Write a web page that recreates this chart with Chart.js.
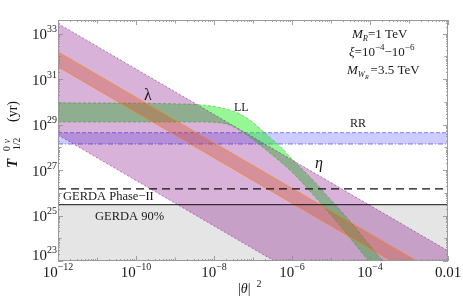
<!DOCTYPE html>
<html>
<head>
<meta charset="utf-8">
<script src="https://cdn.jsdelivr.net/npm/chart.js@4.4.0/dist/chart.umd.min.js"></script>
<style>
  body { margin: 0; background: #fff; }
  #wrap { width: 463px; height: 305px; }
</style>
</head>
<body>
<div id="wrap"><canvas id="chart"></canvas></div>
<script>
// axis ranges
const thetaRange = [1e-12, 1e-2];
const halfLifeRange = [1e23, 4e33];

// straight power-law bands (end points only, T ~ 1/|theta|^2)
const bandEnds = [1e-12, 1e-2];
const lambdaEtaUpper = [2.8e33, 2.8e23];
const lambdaEtaLower = [3.5e28, 3.5e18];
const lambdaUpper = [1.6e32, 1.6e22];
const lambdaLower = [3.5e31, 3.5e21];

// LL band
const llUpperTheta = [1e-12, 7.6e-10, 4.5e-9, 1.5e-8, 4e-8, 8.7e-8, 1.55e-7, 2.8e-7, 5.1e-7, 1.05e-6, 3.4e-6, 7.2e-6, 3.2e-5, 2.1e-4, 1e-3];
const llUpperT = [9.1e29, 8.3e29, 7.4e29, 5.5e29, 3.3e29, 1.5e29, 6.5e28, 2.6e28, 1.05e28, 2.8e27, 3.7e26, 8.9e25, 5.2e24, 1e23, 4.6e21];
const llLowerTheta = [1e-12, 4.5e-9, 1.95e-8, 4.8e-8, 1.4e-7, 3.8e-7, 1.05e-6, 4.1e-6, 1.8e-5, 9.3e-5, 1e-3];
const llLowerT = [1.3e29, 1.3e29, 1.1e29, 5.4e28, 1.4e28, 3.5e27, 7.6e26, 6e25, 3.2e24, 1e23, 8.7e20];

// RR band and GERDA limits (flat)
const rrUpper = 4.4e28;
const rrLower = 1.4e28;
const gerda90 = 3e25;
const gerdaPhase2 = 1.5e26;

// tick labels (powers of ten)
const xTickExps = [-12, -10, -8, -6, -4];
const xTickLast = '0.01';
const yTickExps = [23, 25, 27, 29, 31, 33];

function pts(xs, ys) {
  return xs.map((x, i) => ({ x: x, y: ys[i] }));
}
function flat(v) {
  return pts(thetaRange, [v, v]);
}

const serif = '"Liberation Serif", "DejaVu Serif", serif';

// draw a run of text pieces one after another
function runs(ctx, x, y, parts) {
  let cx = x;
  parts.forEach(p => {
    ctx.font = (p.st || '') + ' ' + p.s + 'px ' + serif;
    ctx.fillText(p.t, cx, y + (p.dy || 0));
    cx += ctx.measureText(p.t).width + (p.gap || 0);
  });
  return cx;
}
function runsWidth(ctx, parts) {
  let w = 0;
  parts.forEach(p => {
    ctx.font = (p.st || '') + ' ' + p.s + 'px ' + serif;
    w += ctx.measureText(p.t).width + (p.gap || 0);
  });
  return w;
}
function powParts(exp) {
  return [{ t: '10', s: 15 }, { t: String(exp).replace('-', '\u2212'), s: 10, dy: -7 }];
}

const framePlugin = {
  id: 'frame',
  afterDraw(chart) {
    const ctx = chart.ctx;
    const a = chart.chartArea;
    const xs = chart.scales.x, ys = chart.scales.y;
    ctx.save();

    // inner ticks on all four sides
    ctx.strokeStyle = '#8a8a8a';
    ctx.lineWidth = 0.8;
    ctx.beginPath();
    for (let n = -12; n <= -2; n++) {
      for (let k = 1; k <= 9; k++) {
        const v = k * Math.pow(10, n);
        if (v > thetaRange[1] * 1.0001) continue;
        const px = Math.round(xs.getPixelForValue(v)) + 0.5;
        const len = k === 1 ? (n % 2 === 0 ? 5 : 3.5) : 2;
        ctx.moveTo(px, a.bottom); ctx.lineTo(px, a.bottom - len);
        ctx.moveTo(px, a.top); ctx.lineTo(px, a.top + len);
      }
    }
    for (let n = 23; n <= 33; n++) {
      for (let k = 1; k <= 9; k++) {
        const v = k * Math.pow(10, n);
        if (v > halfLifeRange[1]) continue;
        const py = Math.round(ys.getPixelForValue(v)) + 0.5;
        const len = k === 1 ? (n % 2 === 1 ? 5 : 3.5) : 2;
        ctx.moveTo(a.left, py); ctx.lineTo(a.left + len, py);
        ctx.moveTo(a.right, py); ctx.lineTo(a.right - len, py);
      }
    }
    ctx.stroke();

    // frame
    ctx.strokeStyle = '#9a9a9a';
    ctx.lineWidth = 1;
    ctx.strokeRect(Math.round(a.left) + 0.5, Math.round(a.top) + 0.5,
      Math.round(a.right - a.left) - 1, Math.round(a.bottom - a.top) - 1);

    ctx.fillStyle = '#1a1a1a';
    ctx.textBaseline = 'alphabetic';

    // y tick labels
    yTickExps.forEach(e => {
      const py = ys.getPixelForValue(Math.pow(10, e));
      const parts = powParts(e);
      const w = runsWidth(ctx, parts);
      const base = e === 23 ? py - 1 : py + 5.5;
      runs(ctx, a.left - 1 - w, base, parts);
    });

    // x tick labels
    xTickExps.forEach(e => {
      const px = xs.getPixelForValue(Math.pow(10, e));
      const parts = powParts(e);
      const w = runsWidth(ctx, parts);
      runs(ctx, px - w / 2, 277, parts);
    });
    ctx.font = '15px ' + serif;
    const wl = ctx.measureText(xTickLast).width;
    ctx.fillText(xTickLast, xs.getPixelForValue(thetaRange[1]) - wl / 2, 277);

    // x title
    runs(ctx, 238, 293, [{ t: '|', s: 14 }, { t: '\u03b8', s: 14, st: 'italic' }, { t: '|', s: 14, gap: 6 }, { t: '2', s: 10, dy: -6 }]);

    // y title, rotated
    ctx.save();
    ctx.translate(17, 168);
    ctx.rotate(-Math.PI / 2);
    runs(ctx, 0, 0, [{ t: 'T', s: 15, st: 'italic bold' }]);
    runs(ctx, 17, -7.5, [{ t: '0', s: 9.5, gap: 3 }, { t: '\u03bd', s: 9.5, st: 'italic' }]);
    runs(ctx, 18, 2.5, [{ t: '1/2', s: 9.5 }]);
    runs(ctx, 46, 0, [{ t: '(yr)', s: 14 }]);
    ctx.restore();

    // curve labels
    runs(ctx, 144, 100, [{ t: '\u03bb', s: 16 }]);
    runs(ctx, 234, 111, [{ t: 'LL', s: 12 }]);
    runs(ctx, 350, 127, [{ t: 'RR', s: 12 }]);
    runs(ctx, 315, 168, [{ t: '\u03b7', s: 16, st: 'italic' }]);
    runs(ctx, 63, 200, [{ t: 'GERDA Phase\u2212II', s: 12.5 }]);
    runs(ctx, 95, 220, [{ t: 'GERDA 90%', s: 12.5 }]);

    // parameter box
    runs(ctx, 352, 38, [{ t: 'M', s: 13, st: 'italic' }, { t: 'R', s: 8.5, st: 'italic', dy: 3 },
      { t: '=1 TeV', s: 13 }]);
    runs(ctx, 349, 56, [{ t: '\u03be', s: 13, st: 'italic' }, { t: '=10', s: 13 }, { t: '\u22124', s: 9, dy: -6 },
      { t: '\u221210', s: 13 }, { t: '\u22126', s: 9, dy: -6 }]);
    runs(ctx, 347, 74, [{ t: 'M', s: 13, st: 'italic' }, { t: 'W', s: 8.5, st: 'italic', dy: 3 },
      { t: 'R', s: 6, st: 'italic', dy: 5, gap: 2 }, { t: '=3.5 TeV', s: 13 }]);

    ctx.restore();
  }
};

new Chart(document.getElementById('chart'), {
  type: 'line',
  data: {
    datasets: [
      { label: 'lambda upper', data: pts(bandEnds, lambdaUpper), fill: 1, order: 1,
        backgroundColor: 'rgba(210,80,40,0.35)', borderColor: 'rgba(255,140,0,0.75)', borderWidth: 0.8 },
      { label: 'lambda lower', data: pts(bandEnds, lambdaLower), fill: false, order: 1,
        borderColor: 'rgba(255,140,0,0.75)', borderWidth: 0.8 },
      { label: 'lambda-eta upper', data: pts(bandEnds, lambdaEtaUpper), fill: 3, order: 2,
        backgroundColor: 'rgba(128,0,128,0.3)', borderColor: 'rgba(128,0,128,0.6)', borderWidth: 0.8, borderDash: [2, 2] },
      { label: 'lambda-eta lower', data: pts(bandEnds, lambdaEtaLower), fill: false, order: 2,
        borderColor: 'rgba(128,0,128,0.6)', borderWidth: 0.8, borderDash: [2, 2] },
      { label: 'LL upper', data: pts(llUpperTheta, llUpperT), fill: 5, order: 3, cubicInterpolationMode: 'monotone',
        backgroundColor: 'rgba(20,240,20,0.45)', borderColor: 'rgba(0,200,0,0.6)', borderWidth: 0.8, borderDash: [3, 2] },
      { label: 'LL lower', data: pts(llLowerTheta, llLowerT), fill: false, order: 3, cubicInterpolationMode: 'monotone',
        borderColor: 'rgba(0,200,0,0.6)', borderWidth: 0.8, borderDash: [3, 2] },
      { label: 'RR upper', data: flat(rrUpper), fill: 7, order: 4,
        backgroundColor: 'rgba(0,0,255,0.2)', borderColor: 'rgba(70,70,255,0.85)', borderWidth: 0.8, borderDash: [4, 2] },
      { label: 'RR lower', data: flat(rrLower), fill: false, order: 4,
        borderColor: 'rgba(70,70,255,0.85)', borderWidth: 0.8, borderDash: [5, 2, 1, 2] },
      { label: 'GERDA region', data: flat(gerda90), fill: 'start', order: 5,
        backgroundColor: '#e5e5e5', borderWidth: 0 },
      { label: 'GERDA 90%', data: flat(gerda90), fill: false, order: 0,
        borderColor: '#111', borderWidth: 1 },
      { label: 'GERDA Phase-II', data: flat(gerdaPhase2), fill: false, order: 0,
        borderColor: '#111', borderWidth: 1.3, borderDash: [8, 5] }
    ]
  },
  options: {
    responsive: true,
    maintainAspectRatio: false,
    animation: false,
    events: [],
    layout: { padding: { left: 58, right: 15, top: 20, bottom: 44 } },
    elements: { point: { radius: 0 }, line: { tension: 0 } },
    scales: {
      x: { type: 'logarithmic', min: thetaRange[0], max: thetaRange[1], display: false },
      y: { type: 'logarithmic', min: halfLifeRange[0], max: halfLifeRange[1], display: false }
    },
    plugins: { legend: { display: false }, tooltip: { enabled: false } }
  },
  plugins: [framePlugin]
});
</script>
</body>
</html>
